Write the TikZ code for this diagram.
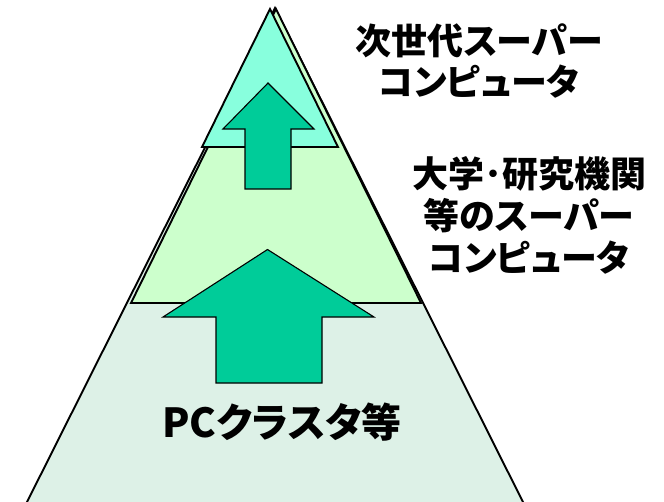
\documentclass[tikz,border=0pt]{standalone}
\usepackage{fontspec}
\newfontfamily\jp{Noto Sans CJK JP}[RawFeature=+palt]
\definecolor{palebg}{HTML}{DDF1E7}
\definecolor{midgreen}{HTML}{CCFFCC}
\definecolor{topcyan}{HTML}{88FFDD}
\definecolor{arrowfill}{HTML}{00CC99}
\tikzset{
  tri/.style={draw=black, line width=1.9pt, line join=miter},
  uparrow/.style={draw=black, line width=1.1pt, fill=arrowfill, line join=miter},
  lbl/.style={font=\jp\bfseries, align=center, inner sep=0pt}
}
\begin{document}
\begin{tikzpicture}[x=1pt,y=-1pt]
\useasboundingbox (0,0) rectangle (664,501);
% bottom layer
\draw[tri, fill=palebg] (275,8) -- (524,504) -- (26,504) -- cycle;
% middle layer
\draw[tri, fill=midgreen] (276,9) -- (421,303) -- (131,303) -- cycle;
% top layer
\draw[tri, fill=topcyan] (270,9) -- (338,147) -- (202,147) -- cycle;
% small arrow
\draw[uparrow] (268,83) -- (314,129) -- (291,129) -- (291,189) -- (245,189) -- (245,129) -- (223,129) -- cycle;
% big arrow
\draw[uparrow] (267.5,249.5) -- (374,317) -- (322,317) -- (322,383) -- (216,383) -- (216,317) -- (163,317) -- cycle;
% labels
\node[lbl, font=\jp\bfseries\fontsize{36}{41}\selectfont] (t1) at (479,61) {次世代スーパー\\コンピュータ};
\node[lbl, font=\jp\bfseries\fontsize{36}{42}\selectfont] (t2) at (529,215) {大学･研究機関\\等のスーパー\\コンピュータ};
\node[lbl, font=\jp\bfseries\fontsize{40}{44}\selectfont] (t3) at (282,422) {PCクラスタ等};
\end{tikzpicture}
\end{document}
